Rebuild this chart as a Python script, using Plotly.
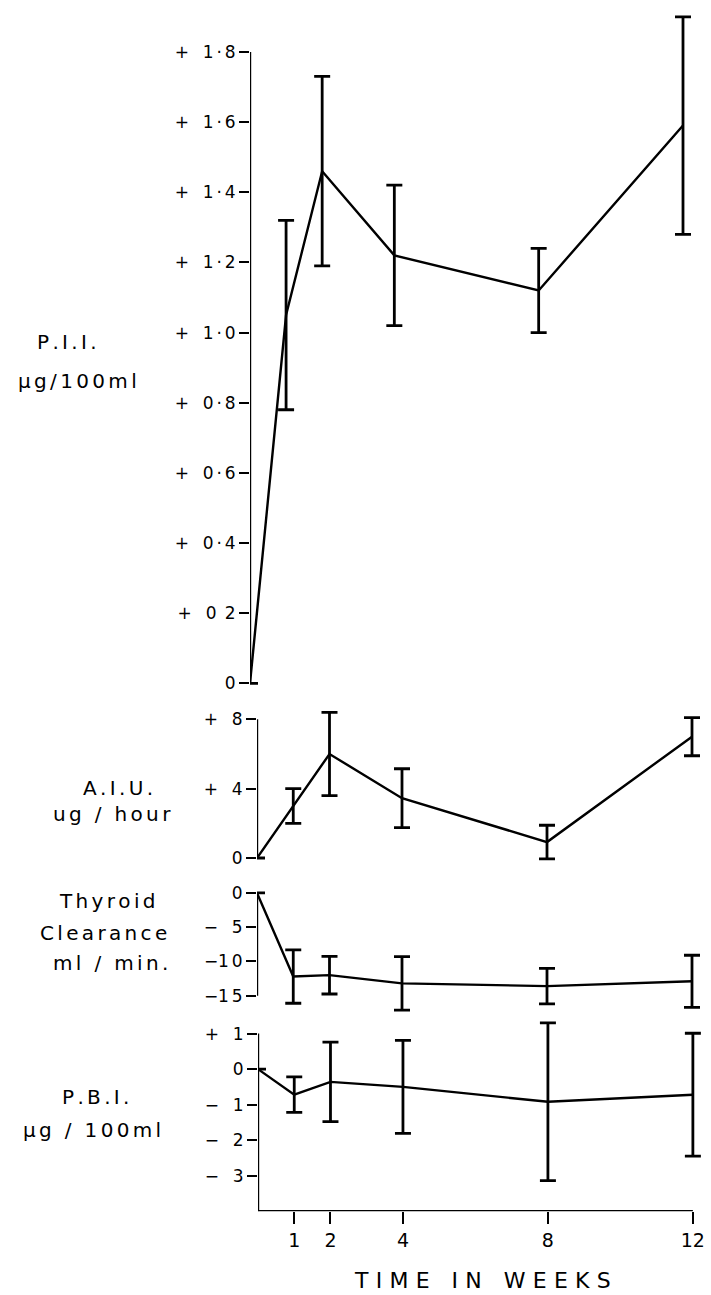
import plotly.graph_objects as go

# ---------------------------------------------------------------- data
weeks = [0, 1, 2, 4, 8, 12]

pii_mean = [0, 1.05, 1.46, 1.22, 1.12, 1.59]
pii_err = [None, 0.27, 0.27, 0.20, 0.12, 0.31]

aiu_mean = [0, 3.0, 6.0, 3.45, 0.92, 7.0]
aiu_err = [None, 1.0, 2.4, 1.7, 0.97, 1.1]

thy_mean = [0, -12.2, -12.0, -13.2, -13.6, -12.9]
thy_err = [None, 3.9, 2.75, 3.9, 2.6, 3.8]

pbi_mean = [0, -0.72, -0.36, -0.5, -0.92, -0.72]
pbi_err = [None, 0.5, 1.12, 1.31, 2.22, 1.73]

pii_ticks = [0, 0.2, 0.4, 0.6, 0.8, 1.0, 1.2, 1.4, 1.6, 1.8]
pii_labels = ["0", "+\u2002 0\u2006 2", "+\u2002 0\u2006·\u20064", "+\u2002 0\u2006·\u20066",
              "+\u2002 0\u2006·\u20068", "+\u2002 1\u2006·\u20060", "+\u2002 1\u2006·\u20062",
              "+\u2002 1\u2006·\u20064", "+\u2002 1\u2006·\u20066", "+\u2002 1\u2006·\u20068"]
aiu_ticks = [0, 4, 8]
aiu_labels = ["0", "+\u2002 4", "+\u2002 8"]
thy_ticks = [0, -5, -10, -15]
thy_labels = ["0", "\u2212\u2002 5", "\u22121\u20060", "\u22121\u20065"]
pbi_ticks = [1, 0, -1, -2, -3]
pbi_labels = ["+\u2002 1", "0", "\u2212\u2002 1", "\u2212\u2002 2", "\u2212\u2002 3"]
week_ticks = [1, 2, 4, 8, 12]

# ---------------------------------------------------------------- layout helpers
W, H = 711, 1295
FONT = "DejaVu Sans"
INK = "black"


def clamp(v):
    return min(1.0, max(0.0, v))


def ydomain(va, pa, vb, pb, lo, hi):
    k = (pa - pb) / (vb - va)
    p_lo = pa + (va - lo) * k
    p_hi = pa - (hi - va) * k
    return [clamp(1 - p_lo / H), clamp(1 - p_hi / H)]


def xdomain(va, pa, vb, pb, lo, hi):
    k = (pb - pa) / (vb - va)
    return [clamp((pa + (lo - va) * k) / W), clamp((pa + (hi - va) * k) / W)]


def spread(text, gap="\u2006"):
    return gap.join(text)


panels = [
    # (mean, err, yrange, y anchors, x anchors, ticks, labels, axis span)
    (pii_mean, pii_err, [-0.04, 1.92], (0, 682, 1.8, 49), (0, 250, 12, 683),
     pii_ticks, pii_labels, (0, 1.8)),
    (aiu_mean, aiu_err, [-0.6, 9.0], (0, 857, 8, 718), (0, 257, 12, 692),
     aiu_ticks, aiu_labels, (0, 8)),
    (thy_mean, thy_err, [-18.0, 1.0], (0, 892, -15, 995), (0, 257, 12, 692),
     thy_ticks, thy_labels, (-15, 0)),
    (pbi_mean, pbi_err, [-4.0, 1.6], (1, 1033, -4, 1211), (0, 258, 12, 697),
     pbi_ticks, pbi_labels, (-4, 1)),
]

XRANGE = [0, 12.5]

fig = go.Figure()
layout = dict(
    width=W, height=H,
    margin=dict(l=0, r=0, t=0, b=0),
    paper_bgcolor="white", plot_bgcolor="rgba(0,0,0,0)",
    showlegend=False,
    font=dict(family=FONT, color=INK),
)
shapes = []

for i, (mean, err, yr, ya, xa, tv, tt, span) in enumerate(panels, start=1):
    sfx = "" if i == 1 else str(i)
    xname, yname = "x" + sfx, "y" + sfx
    last = i == len(panels)

    fig.add_trace(go.Scatter(
        x=weeks, y=mean, mode="lines",
        line=dict(color=INK, width=2.4),
        error_y=dict(type="data", array=err, symmetric=True,
                     color=INK, thickness=2.8, width=8),
        xaxis=xname, yaxis=yname, hoverinfo="skip",
    ))

    layout["xaxis" + sfx] = dict(
        domain=xdomain(*xa, *XRANGE), range=XRANGE, anchor=yname,
        showgrid=False, zeroline=False, showline=False,
        showticklabels=last, ticks="outside" if last else "",
        tickvals=week_ticks if last else [], ticklen=12, tickwidth=2.4,
        tickcolor=INK, tickfont=dict(size=19, family=FONT, color=INK),
    )
    layout["yaxis" + sfx] = dict(
        domain=ydomain(*ya, *yr), range=yr, anchor=xname,
        showgrid=False, zeroline=False, showline=False,
        ticks="outside", ticklen=10, tickwidth=2, tickcolor=INK,
        tickvals=tv, ticktext=tt,
        tickfont=dict(size=17, family=FONT, color=INK),
    )

    # vertical axis line limited to the labelled span
    shapes.append(dict(type="line", xref=xname, yref=yname,
                       x0=0, x1=0, y0=span[0], y1=span[1],
                       line=dict(color=INK, width=2.4)))
    if last:
        shapes.append(dict(type="line", xref=xname, yref=yname,
                           x0=0, x1=12, y0=span[0], y1=span[0],
                           line=dict(color=INK, width=2.4)))

layout["shapes"] = shapes

# side titles (pixel centres converted to paper coordinates)
side_titles = [
    ("P.I.I.", 67, 340),
    ("µg/100ml", 77, 379),
    ("A.I.U.", 118, 787),
    ("ug / hour", 112, 813),
    ("Thyroid", 107, 900),
    ("Clearance", 103, 932),
    ("ml / min.", 110, 962),
    ("P.B.I.", 96, 1097),
    ("µg / 100ml", 92, 1130),
]
annotations = []
for text, px, py in side_titles:
    annotations.append(dict(
        text=spread(text), x=px / W, y=1 - py / H, xref="paper", yref="paper",
        xanchor="center", yanchor="middle", showarrow=False,
        font=dict(size=20, family=FONT, color=INK),
    ))
annotations.append(dict(
    text="\u2002\u2002".join(spread(w, "\u2004") for w in ["TIME", "IN", "WEEKS"]),
    x=482 / W, y=1 - 1280 / H, xref="paper", yref="paper",
    xanchor="center", yanchor="middle", showarrow=False,
    font=dict(size=22, family=FONT, color=INK),
))
layout["annotations"] = annotations

fig.update_layout(**layout)
fig.write_html("out.html")
